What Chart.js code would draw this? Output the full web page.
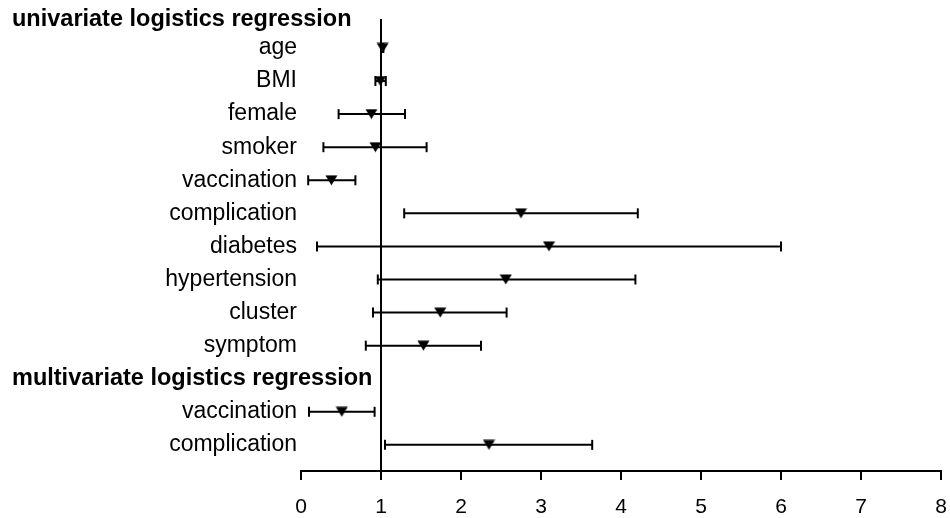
<!DOCTYPE html>
<html>
<head>
<meta charset="utf-8">
<script src="https://cdn.jsdelivr.net/npm/chart.js@4/dist/chart.umd.min.js"></script>
<style>
  html, body { margin: 0; padding: 0; background: #fff; }
  #wrap { width: 950px; height: 518px; position: relative; }
</style>
</head>
<body>
<div id="wrap"><canvas id="c"></canvas></div>
<script>
// ---- data ----
const uniHeader = 'univariate logistics regression';
const multiHeader = 'multivariate logistics regression';

const uniLabels = ['age', 'BMI', 'female', 'smoker', 'vaccination', 'complication', 'diabetes', 'hypertension', 'cluster', 'symptom'];
const uniOR     = [1.02, 0.99, 0.88, 0.93, 0.38, 2.75, 3.10, 2.56, 1.74, 1.53];
const uniLow    = [1.01, 0.93, 0.47, 0.28, 0.09, 1.29, 0.20, 0.96, 0.90, 0.81];
const uniHigh   = [1.03, 1.06, 1.30, 1.57, 0.68, 4.21, 6.00, 4.18, 2.57, 2.25];

const multiLabels = ['vaccination', 'complication'];
const multiOR     = [0.51, 2.35];
const multiLow    = [0.10, 1.05];
const multiHigh   = [0.92, 3.64];

const xTicks = [0, 1, 2, 3, 4, 5, 6, 7, 8];
const refLine = 1;

// ---- build rows ----
const rowLabels = [uniHeader].concat(uniLabels, [multiHeader], multiLabels);
const headerRows = [0, uniLabels.length + 1];
const headerShift = [0.15, 0];
const rows = [];
uniLabels.forEach((l, i) => rows.push({ row: i + 1, or: uniOR[i], lo: uniLow[i], hi: uniHigh[i] }));
multiLabels.forEach((l, i) => rows.push({ row: uniLabels.length + 2 + i, or: multiOR[i], lo: multiLow[i], hi: multiHigh[i] }));

const FONT = '"Liberation Sans", Arial, Helvetica, sans-serif';

// centred downward triangle marker
const tri = document.createElement('canvas');
tri.width = 13; tri.height = 11;
(function () {
  const t = tri.getContext('2d');
  t.fillStyle = '#000';
  t.beginPath();
  t.moveTo(0.5, 0.5);
  t.lineTo(12.5, 0.5);
  t.lineTo(6.5, 10.5);
  t.closePath();
  t.fill();
})();

const datasets = [];
rows.forEach(r => {
  datasets.push({
    type: 'scatter',
    showLine: true,
    data: [{ x: r.lo, y: r.row }, { x: r.hi, y: r.row }],
    borderColor: '#000',
    borderWidth: 2,
    pointStyle: 'line',
    rotation: 90,
    pointRadius: 5,
    pointHoverRadius: 5,
    pointBorderWidth: 2,
    pointBorderColor: '#000',
    clip: false
  });
});
datasets.push({
  type: 'scatter',
  data: rows.map(r => ({ x: r.or, y: r.row })),
  pointStyle: tri,
  pointRadius: 6,
  clip: false
});

const headerPlugin = {
  id: 'headers',
  afterDraw(chart) {
    const ys = chart.scales.y;
    const ctx = chart.ctx;
    ctx.save();
    ctx.font = 'bold 23.5px ' + FONT;
    ctx.fillStyle = '#000';
    ctx.textAlign = 'left';
    ctx.textBaseline = 'middle';
    headerRows.forEach((r, k) => ctx.fillText(rowLabels[r], 12, ys.getPixelForValue(r + headerShift[k])));
    ctx.restore();
  }
};

new Chart(document.getElementById('c'), {
  type: 'scatter',
  data: { datasets },
  plugins: [headerPlugin],
  options: {
    responsive: true,
    maintainAspectRatio: false,
    animation: false,
    events: [],
    layout: { padding: { top: 19, right: 9, left: 0, bottom: 0 } },
    plugins: { legend: { display: false }, tooltip: { enabled: false } },
    scales: {
      x: {
        type: 'linear',
        min: 0,
        max: 8,
        afterBuildTicks: s => { s.ticks = xTicks.map(v => ({ value: v })); },
        afterFit: s => { s.height = 47; s.paddingRight = 9; s.paddingLeft = 0; },
        border: { display: true, color: '#000', width: 2 },
        grid: {
          drawOnChartArea: true,
          color: c => (c.tick && c.tick.value === refLine ? '#000' : 'rgba(0,0,0,0)'),
          lineWidth: 2,
          tickColor: '#000',
          tickWidth: 2,
          tickLength: 9
        },
        ticks: {
          color: '#000',
          padding: 15,
          font: { family: FONT, size: 21 },
          maxRotation: 0,
          autoSkip: false
        }
      },
      y: {
        type: 'linear',
        reverse: true,
        min: 0.124,
        max: 13.79,
        afterBuildTicks: s => { s.ticks = rowLabels.map((l, i) => ({ value: i })).filter(t => t.value >= 0.124); },
        afterFit: s => { s.width = 301; },
        border: { display: false },
        grid: { display: false, drawTicks: false },
        ticks: {
          color: '#000',
          padding: 4,
          autoSkip: false,
          font: { family: FONT, size: 23 },
          callback: (v) => (headerRows.includes(v) ? '' : rowLabels[v])
        }
      }
    }
  }
});
</script>
</body>
</html>
